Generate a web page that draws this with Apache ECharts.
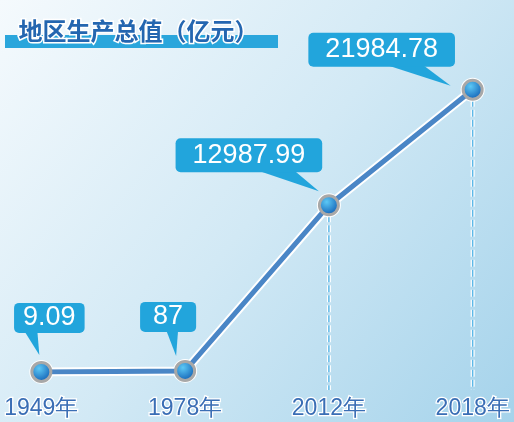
<!DOCTYPE html>
<html>
<head>
<meta charset="UTF-8">
<title>地区生产总值</title>
<script src="https://cdn.jsdelivr.net/npm/echarts@6/dist/echarts.min.js"></script>
<style>
    html, body { margin: 0; padding: 0; }
    #main { width: 514px; height: 422px; }
</style>
</head>
<body>
<div id="main"></div>
<script>
    // 数据
    var years = ['1949年', '1978年', '2012年', '2018年'];
    var gdp = [9.09, 87, 12987.99, 21984.78];
    var valueText = ['9.09', '87', '12987.99', '21984.78'];
    var hasDropLine = [false, false, true, true];

    // 标注框的位置（相对于数据点）
    var boxOffset = [[8, -54], [-17, -54], [-80, -50], [-91, -40]];
    var boxPadding = [[1, 9], [1, 13], [3, 17], [3, 17]];
    var tailBase = [[-25, -12], [-2, 10], [8, 45], [4, 41]];
    var tailTip = [[-2, -17], [-9, -15], [-10, -14], [-22, -4]];

    var boxColor = '#22a5dc';
    var cnFont = '"Noto Sans CJK SC", sans-serif';
    var numFont = '"Liberation Sans", Arial, sans-serif';

    var pointData = gdp.map(function (v, i) { return [i, v]; });

    var myChart = echarts.init(document.getElementById('main'));

    myChart.setOption({
        backgroundColor: new echarts.graphic.LinearGradient(0, 0, 1, 1, [
            {offset: 0, color: '#f5fafd'},
            {offset: 0.5, color: '#d2e9f5'},
            {offset: 1, color: '#a5d3eb'}
        ]),
        animation: false,
        graphic: [
            {type: 'rect', left: 5, top: 35, shape: {width: 273, height: 13}, style: {fill: '#2aa6dc'}},
            {
                type: 'text', left: 17, top: 17,
                style: {
                    text: '地区生产总值（亿元）',
                    font: 'bold 24px ' + cnFont,
                    fill: '#2466b0',
                    stroke: '#ffffff',
                    lineWidth: 3
                }
            }
        ],
        grid: {left: 37, right: 36, top: 51, bottom: 50},
        xAxis: {
            type: 'category',
            boundaryGap: false,
            data: years,
            axisLine: {show: false},
            axisTick: {show: false},
            axisLabel: {
                margin: 25,
                fontSize: 23,
                fontFamily: numFont,
                color: '#3a6eb5',
                textBorderColor: '#ffffff',
                textBorderWidth: 2.5
            }
        },
        yAxis: {
            type: 'value',
            min: 0,
            max: 25000,
            show: false,
            splitLine: {show: false}
        },
        series: [
            {
                // 虚线
                type: 'custom',
                z: 1,
                silent: true,
                data: pointData,
                renderItem: function (params, api) {
                    var i = params.dataIndex;
                    if (!hasDropLine[i]) return null;
                    var p = api.coord([api.value(0), api.value(1)]);
                    var base = api.coord([api.value(0), 0]);
                    var shape = {x1: p[0], y1: p[1], x2: p[0], y2: base[1] + 18};
                    return {
                        type: 'group',
                        children: [
                            {type: 'line', shape: shape,
                                style: {stroke: '#ffffff', lineWidth: 4, lineDash: [7, 3]}},
                            {type: 'line', shape: shape,
                                style: {stroke: '#5db8e8', lineWidth: 1.5, lineDash: [7, 3]}}
                        ]
                    };
                }
            },
            {
                // 白色描边
                type: 'line',
                z: 2,
                silent: true,
                data: gdp,
                symbol: 'circle',
                symbolSize: 24,
                itemStyle: {color: '#ffffff'},
                lineStyle: {color: '#ffffff', width: 9}
            },
            {
                type: 'line',
                z: 3,
                data: gdp,
                symbol: 'circle',
                symbolSize: 19,
                itemStyle: {
                    color: new echarts.graphic.RadialGradient(0.4, 0.35, 0.6, [
                        {offset: 0, color: '#5cc8f5'},
                        {offset: 1, color: '#1565b8'}
                    ]),
                    borderColor: '#a8a8a8',
                    borderWidth: 3
                },
                lineStyle: {color: '#4a86c6', width: 5}
            },
            {
                // 数值标注
                type: 'custom',
                z: 4,
                silent: true,
                data: pointData,
                renderItem: function (params, api) {
                    var i = params.dataIndex;
                    var p = api.coord([api.value(0), api.value(1)]);
                    var cx = p[0] + boxOffset[i][0];
                    var cy = p[1] + boxOffset[i][1];
                    var pad = boxPadding[i];
                    var bottom = cy + 14 + pad[0] - 2;
                    return {
                        type: 'group',
                        children: [
                            {
                                type: 'polygon',
                                shape: {points: [
                                    [cx + tailBase[i][0], bottom],
                                    [cx + tailBase[i][1], bottom],
                                    [p[0] + tailTip[i][0], p[1] + tailTip[i][1]]
                                ]},
                                style: {fill: boxColor}
                            },
                            {
                                type: 'text',
                                x: cx,
                                y: cy,
                                style: {
                                    text: valueText[i],
                                    fill: '#ffffff',
                                    font: '27px ' + numFont,
                                    lineHeight: 28,
                                    align: 'center',
                                    verticalAlign: 'middle',
                                    backgroundColor: boxColor,
                                    padding: pad,
                                    borderRadius: 5
                                }
                            }
                        ]
                    };
                }
            }
        ]
    });
</script>
</body>
</html>
